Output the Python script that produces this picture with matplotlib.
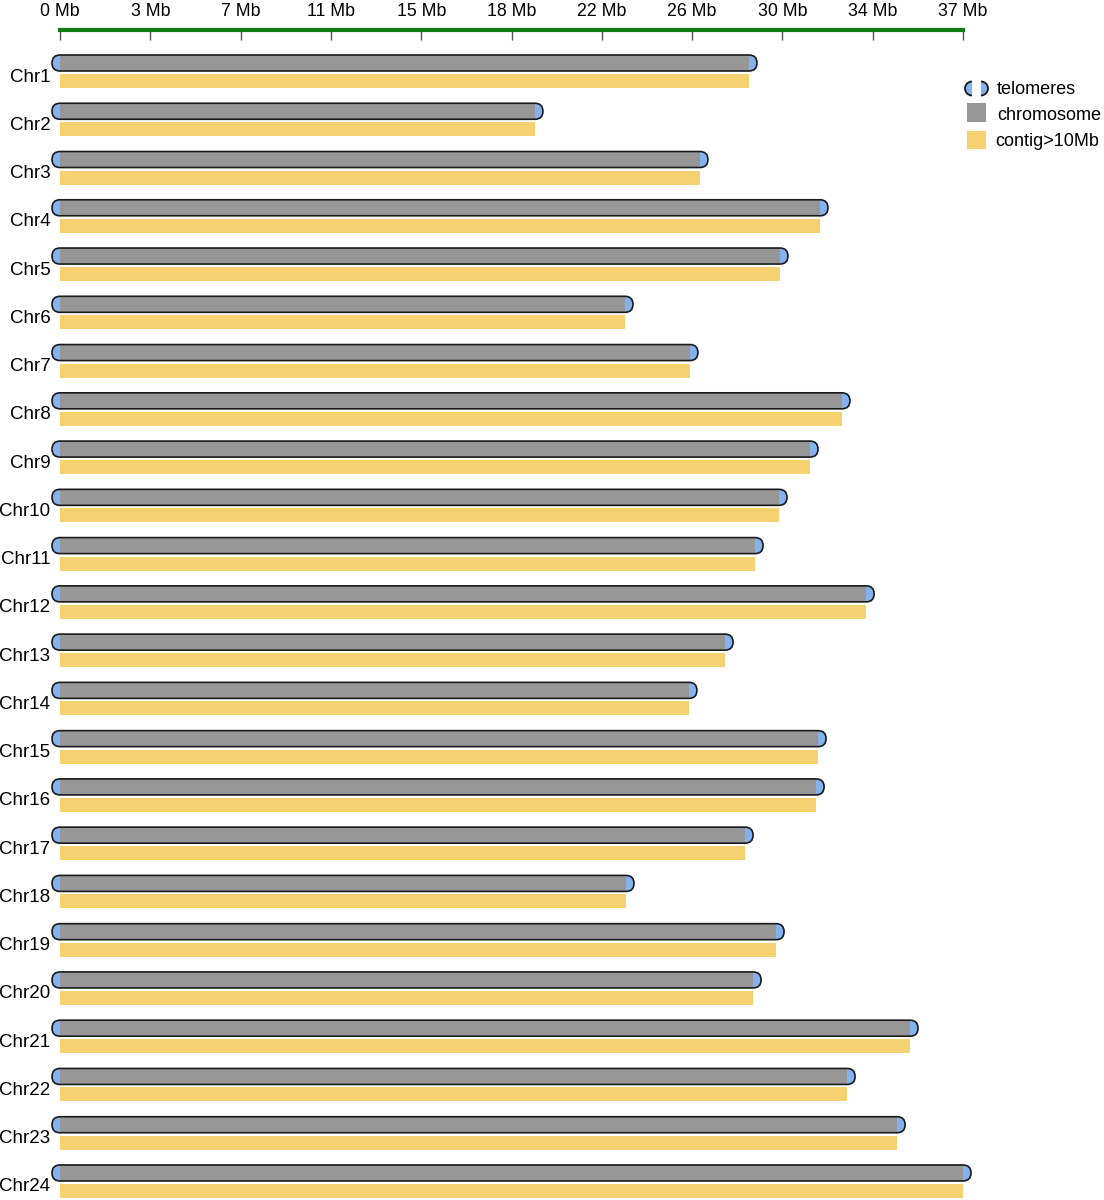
import matplotlib
matplotlib.use("Agg")
import numpy as np
import matplotlib.pyplot as plt
from matplotlib.patches import FancyBboxPatch, Rectangle, Wedge, Arc

plt.rcParams['font.family'] = ['Liberation Sans', 'DejaVu Sans']

# chromosome lengths (Mb)
chroms = ['Chr%d' % i for i in range(1, 25)]
chrom_len = [28.23, 19.46, 26.22, 31.14, 29.50, 23.15, 25.81, 32.04, 30.73, 29.46,
             28.48, 33.03, 27.25, 25.77, 31.06, 30.98, 28.07, 23.19, 29.34, 28.40,
             34.83, 32.25, 34.30, 37.00]
# contigs > 10Mb (cover the whole chromosome)
contig_len = [28.23, 19.46, 26.22, 31.14, 29.50, 23.15, 25.81, 32.04, 30.73, 29.46,
              28.48, 33.03, 27.25, 25.77, 31.06, 30.98, 28.07, 23.19, 29.34, 28.40,
              34.83, 32.25, 34.30, 37.00]
tick_labels = ['0 Mb', '3 Mb', '7 Mb', '11 Mb', '15 Mb', '18 Mb', '22 Mb',
               '26 Mb', '30 Mb', '34 Mb', '37 Mb']

GREY = '#979797'
YELLOW = '#F6D171'
BLUE = '#83B2EC'
EDGE = '#1a1a1a'
GREEN = '#127a12'

W, H = 1104, 1200
fig = plt.figure(figsize=(W / 100, H / 100), dpi=100)

xmax = max(chrom_len)
left_px, right_px = 60, 963
row_px, first_px = 48.26, 72

ax = fig.add_axes([left_px / W, 0, (right_px - left_px) / W, 1])
ax.set_xlim(0, xmax)
ax.set_ylim((H - first_px) / row_px, -first_px / row_px)

# data units per pixel
ux = xmax / (right_px - left_px)
uy = 1 / row_px
aspect = uy / ux

cap = 8 * ux
h_chr = 16 * uy
h_ctg = 14 * uy
off = 9 * uy

for i, (L, C) in enumerate(zip(chrom_len, contig_len)):
    yc = i - off
    box = dict(boxstyle="round,pad=0,rounding_size=%f" % cap, mutation_aspect=aspect,
               clip_on=False)
    ax.add_patch(FancyBboxPatch((-cap, yc - h_chr / 2), L + 2 * cap, h_chr,
                                facecolor=BLUE, edgecolor='none', **box))
    ax.add_patch(Rectangle((0, yc - h_chr / 2), L, h_chr, facecolor=GREY,
                           edgecolor='none', clip_on=False))
    ax.add_patch(FancyBboxPatch((-cap, yc - h_chr / 2), L + 2 * cap, h_chr,
                                facecolor='none', edgecolor=EDGE, linewidth=1.2, **box))
    ax.add_patch(Rectangle((0, i + off - h_ctg / 2), C, h_ctg, facecolor=YELLOW,
                           edgecolor='none', clip_on=False))

ax.set_yticks(np.arange(len(chroms)) + 3 * uy)
ax.set_yticklabels(chroms, fontsize=13.5)
ax.tick_params(axis='y', length=0, pad=7)
ax.set_xticks([])
for s in ax.spines.values():
    s.set_visible(False)
ax.patch.set_alpha(0)

# ruler on top
rul = fig.add_axes([left_px / W, 1 - 30 / H, (right_px - left_px) / W, 0.00001])
rul.set_xlim(0, xmax)
rul.set_yticks([])
rul.set_xticks(np.linspace(0, xmax, len(tick_labels)))
rul.set_xticklabels(tick_labels, fontsize=12.8)
rul.tick_params(axis='x', bottom=True, top=False, labelbottom=False, labeltop=True,
                direction='out', length=7.5, width=1, color='#555555', pad=-0.5)
for k in ['top', 'left', 'right']:
    rul.spines[k].set_visible(False)
rul.spines['bottom'].set_color(GREEN)
rul.spines['bottom'].set_linewidth(3)
rul.patch.set_alpha(0)

# legend in pixel space
lg = fig.add_axes([0, 0, 1, 1])
lg.set_xlim(0, W)
lg.set_ylim(H, 0)
lg.axis('off')
lg.patch.set_alpha(0)
lg.add_patch(Wedge((972, 88.5), 7, 90, 270, facecolor=BLUE, edgecolor='none'))
lg.add_patch(Arc((972, 88.5), 14, 14, theta1=90, theta2=270, color=EDGE, lw=1.3))
lg.add_patch(Wedge((981, 88.5), 7, -90, 90, facecolor=BLUE, edgecolor='none'))
lg.add_patch(Arc((981, 88.5), 14, 14, theta1=-90, theta2=90, color=EDGE, lw=1.3))
lg.add_patch(Rectangle((967, 103), 19, 19, facecolor=GREY, edgecolor='none'))
lg.add_patch(Rectangle((967, 131), 19, 18, facecolor=YELLOW, edgecolor='none'))
lg.text(997, 89, 'telomeres', fontsize=13, va='center')
lg.text(997, 115, 'chromosome', fontsize=13, va='center')
lg.text(995, 142, 'contig>10Mb', fontsize=13, va='center')

fig.savefig('out.png', dpi=100)
